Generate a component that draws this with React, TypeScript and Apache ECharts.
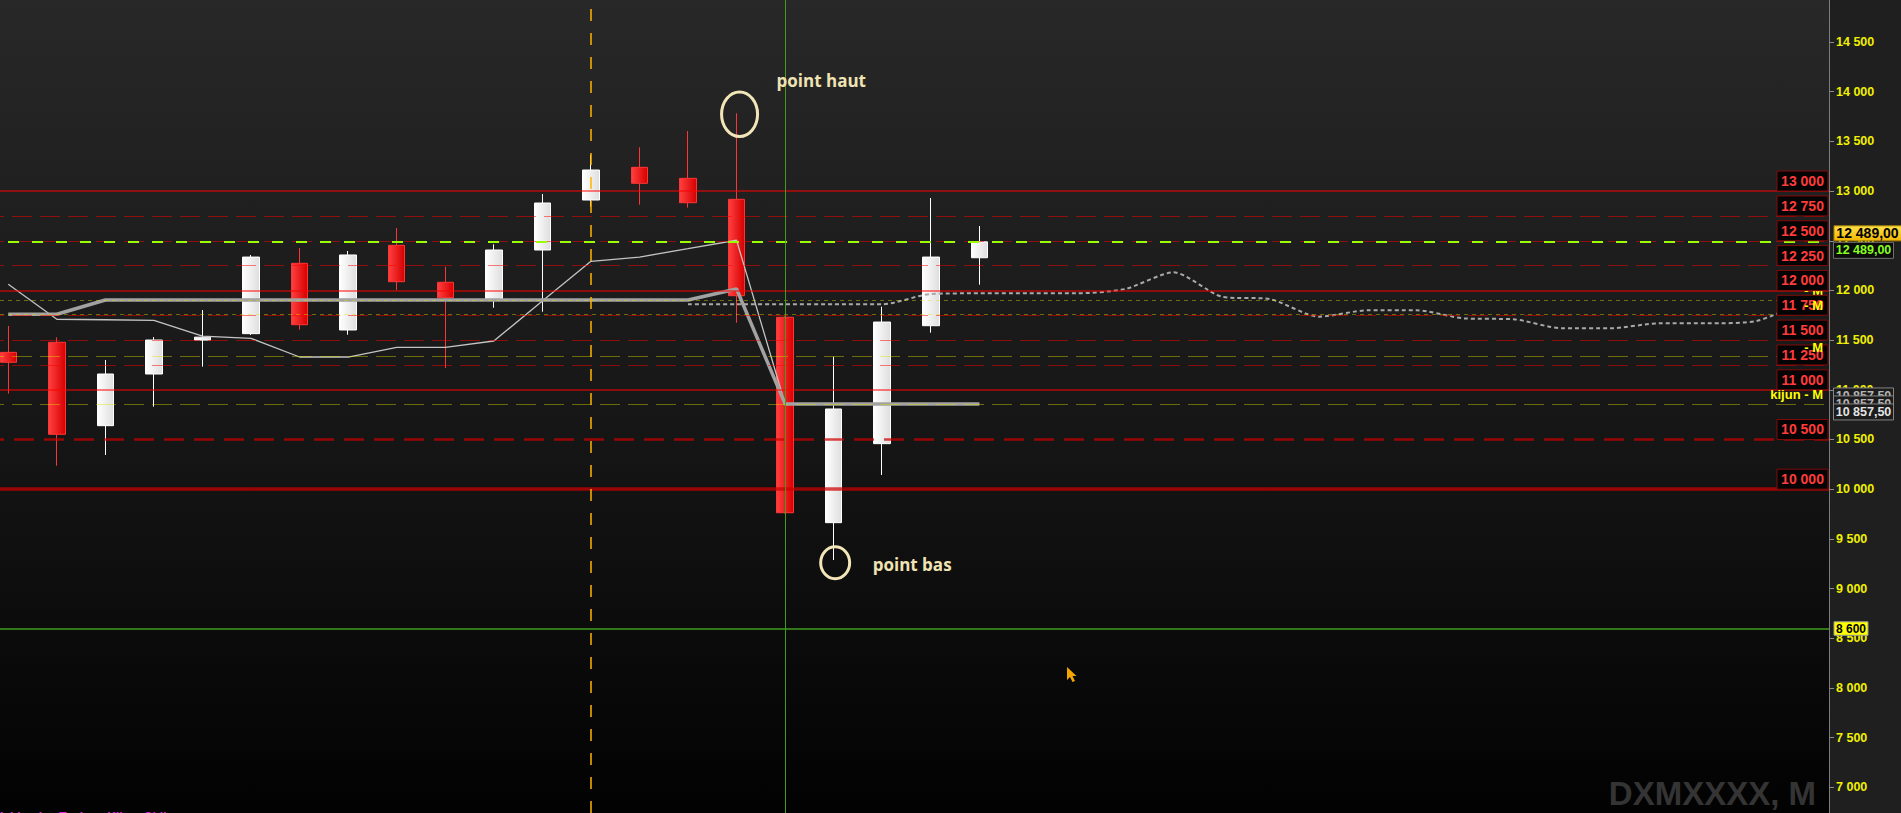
import React, { useEffect, useRef } from 'react';
import * as echarts from 'echarts';

// ---------- data ----------
const categories = [
  '2018-11', '2018-12',
  '2019-01', '2019-02', '2019-03', '2019-04', '2019-05', '2019-06', '2019-07', '2019-08', '2019-09', '2019-10', '2019-11', '2019-12',
  '2020-01', '2020-02', '2020-03', '2020-04', '2020-05', '2020-06', '2020-07', '2020-08', '2020-09', '2020-10', '2020-11', '2020-12',
  '2021-01', '2021-02', '2021-03', '2021-04', '2021-05', '2021-06', '2021-07', '2021-08', '2021-09', '2021-10', '2021-11', '2021-12',
];

const candleOpen = [11377, 11478, 10639, 11159, 11500, 11565, 12273, 11602, 12454, 12082, 11911, 12407, 12910, 13239, 13128, 12917, 11730, 9663, 10458, 11645, 12329];
const candleClose = [11277, 10552, 11159, 11501, 11530, 12336, 11655, 12357, 12088, 11927, 12407, 12880, 13212, 13078, 12883, 11947, 9763, 10807, 11682, 12336, 12489];
const candleLow = [10961, 10236, 10344, 10830, 11233, 11552, 11605, 11555, 12004, 11219, 11826, 11786, 12843, 12863, 12833, 11675, 9755, 9287, 10143, 11575, 12058];
const candleHigh = [11642, 11528, 11300, 11531, 11803, 12357, 12427, 12397, 12628, 12239, 12464, 12970, 13363, 13440, 13604, 13783, 11740, 11333, 11836, 12930, 12648];

const tenkan = [12062, 11710, 11705, 11699, 11541, 11518, 11330, 11330, 11428, 11428, 11491, 11894, 12293, 12336, 12420, 12505, 10857.5, 10857.5, 10857.5, 10857.5, 10857.5];
const kijun = [11760, 11760, 11904, 11904, 11904, 11904, 11904, 11904, 11904, 11904, 11904, 11904, 11904, 11904, 11904, 12014, 10857.5, 10857.5, 10857.5, 10857.5, 10857.5];
const projection: (number | string)[] = [
  '-', '-', '-', '-', '-', '-', '-', '-', '-', '-', '-', '-', '-', '-',
  11860, 11860, 11860, 11860, 11860, 11964, 11971, 11971, 11971, 12014, 12182, 11937,
  11911, 11736, 11800, 11800, 11718, 11710, 11619, 11619, 11669, 11669, 11692, 11894,
];

const yTicks = [7000, 7500, 8000, 8500, 9000, 9500, 10000, 10500, 11000, 11500, 12000, 12500, 13000, 13500, 14000, 14500];
const redLevels = [13000, 12750, 12500, 12250, 12000, 11750, 11500, 11250, 11000, 10500, 10000];
const redSolidLevels = [13000, 12000, 11000];
const redHeavySolidLevels = [10000];
const redHeavyDashedLevels = [10500];
const kijunLevels = [11904, 11760, 11337, 10857.5];
const kijunLabels = ['- M', '- M', '- M', 'kijun - M'];
const kijunShortDash = [11904, 11760];
const currentPrice = 12489;
const supportPrice = 8600;
const kijunPrice = 10857.5;
const orangeMarkerIndex = 12;
const greenMarkerIndex = 16;
const highIndex = 15;
const lowIndex = 17;
const watermark = 'DXMXXXX, M';

// ---------- layout constants ----------
const W = 1901;
const H = 813;
const GRID_LEFT = -16;
const GRID_RIGHT = 72;
const Y_MIN = 6741;
const Y_MAX = 14923;
const FONT = '"Liberation Sans", Arial, sans-serif';

const fmtInt = (v: number) => Math.round(v).toString().replace(/\B(?=(\d{3})+(?!\d))/g, ' ');
const fmtDec = (v: number) => {
  const [i, d] = v.toFixed(2).split('.');
  return fmtInt(Number(i)) + ',' + d;
};

function redLineStyle(v: number) {
  if (redHeavySolidLevels.includes(v)) return { color: 'rgba(205,0,0,0.72)', width: 3.5, type: 'solid' as const };
  if (redHeavyDashedLevels.includes(v)) return { color: 'rgba(205,0,0,0.72)', width: 2.5, type: [20, 10] };
  if (redSolidLevels.includes(v)) return { color: 'rgba(255,0,0,0.5)', width: 2, type: 'solid' as const };
  return { color: 'rgba(255,0,0,0.5)', width: 1, type: [20, 8] };
}

function buildOption() {
  const candles = candleOpen.map((o, i) => [o, candleClose[i], candleLow[i], candleHigh[i]]);
  const whiteGrad = new echarts.graphic.LinearGradient(0, 0, 1, 0, [
    { offset: 0, color: '#ffffff' },
    { offset: 1, color: '#dedede' },
  ]);
  const redGrad = new echarts.graphic.LinearGradient(0, 0, 1, 0, [
    { offset: 0, color: '#ff4040' },
    { offset: 1, color: '#d60000' },
  ]);
  const bgGrad = new echarts.graphic.LinearGradient(0, 0, 0, 1, [
    { offset: 0, color: '#282828' },
    { offset: 0.5, color: '#171717' },
    { offset: 1, color: '#020202' },
  ]);

  return {
    animation: false,
    backgroundColor: '#1f1f1f',
    grid: {
      left: GRID_LEFT,
      right: GRID_RIGHT,
      top: 0,
      bottom: 0,
      outerBoundsMode: 'none',
      containLabel: false,
      show: true,
      borderWidth: 0,
      backgroundColor: bgGrad,
    },
    xAxis: {
      type: 'category',
      data: categories,
      boundaryGap: true,
      axisLine: { show: false },
      axisTick: { show: false },
      axisLabel: { show: false },
      splitLine: { show: false },
    },
    yAxis: {
      type: 'value',
      position: 'right',
      min: Y_MIN,
      max: Y_MAX,
      axisLine: { show: true, lineStyle: { color: '#7c7c7c', width: 1 } },
      axisTick: { show: true, length: 5, lineStyle: { color: '#8c8c8c' }, customValues: yTicks },
      axisLabel: {
        customValues: yTicks,
        color: '#f0f000',
        fontFamily: FONT,
        fontWeight: 'bold',
        fontSize: 12.5,
        margin: 7,
        formatter: (v: number) => fmtInt(v),
      },
      splitLine: { show: false },
    },
    series: [
      {
        type: 'candlestick',
        name: 'DXM',
        data: candles,
        barWidth: 17,
        z: 2,
        emphasis: { disabled: true },
        itemStyle: {
          color: whiteGrad,
          color0: redGrad,
          borderColor: '#ffffff',
          borderColor0: '#ff3535',
          borderWidth: 1,
        },
        markLine: {
          silent: true,
          symbol: ['none', 'none'],
          label: { show: false },
          emphasis: { disabled: true },
          data: [
            ...redLevels.map((v) => ({ yAxis: v, lineStyle: redLineStyle(v) })),
            ...kijunLevels.map((v) => ({
              yAxis: v,
              lineStyle: {
                color: 'rgba(225,225,0,0.42)',
                width: 1,
                type: kijunShortDash.includes(v) ? [4, 4] : [20, 8],
              },
            })),
            { yAxis: currentPrice, lineStyle: { color: '#9cff00', width: 2, type: [11, 13] } },
            { yAxis: supportPrice, lineStyle: { color: '#3f9d20', width: 1.5, type: 'solid' } },
            { xAxis: categories[orangeMarkerIndex], lineStyle: { color: '#ffb400', width: 1.5, type: [12, 12] } },
            { xAxis: categories[greenMarkerIndex], lineStyle: { color: '#3f9d20', width: 1, type: 'solid' } },
          ],
        },
      },
      {
        type: 'line',
        name: 'tenkan',
        data: tenkan,
        symbol: 'none',
        z: 3,
        emphasis: { disabled: true },
        lineStyle: { color: '#c4c4c4', width: 1.3 },
      },
      {
        type: 'line',
        name: 'kijun',
        data: kijun,
        symbol: 'none',
        z: 3,
        emphasis: { disabled: true },
        lineStyle: { color: '#a2a2a2', width: 3.5 },
      },
      {
        type: 'line',
        name: 'projection',
        data: projection,
        symbol: 'none',
        smooth: 0.25,
        z: 3,
        emphasis: { disabled: true },
        lineStyle: { color: '#a9a9a9', width: 2, type: [4, 3] },
      },
    ],
  };
}

function textEl(x: number, y: number, text: string, fill: string, font: string, align: string, z = 60) {
  return {
    type: 'text',
    x,
    y,
    z,
    silent: true,
    style: {
      text,
      fill,
      font,
      textAlign: align,
      textVerticalAlign: 'middle',
      align,
      verticalAlign: 'middle',
    },
  };
}

function buildOverlay(chart: any) {
  const py = (v: number) => chart.convertToPixel({ yAxisIndex: 0 }, v) as number;
  const pt = (i: number, v: number) => chart.convertToPixel({ xAxisIndex: 0, yAxisIndex: 0 }, [i, v]) as number[];
  const axisX = chart.getWidth() - GRID_RIGHT;
  const els: any[] = [];

  kijunLevels.forEach((v, i) => {
    els.push(textEl(axisX - 6, py(v) - 9, kijunLabels[i], '#ffff00', `bold 13px ${FONT}`, 'right', i === 0 ? 49 : 56));
  });

  redLevels.forEach((v) => {
    const y = py(v);
    els.push({
      type: 'rect',
      z: 50,
      silent: true,
      shape: { x: axisX - 52, y: y - 20, width: 51, height: 20 },
      style: { fill: '#040404', stroke: '#800b0b', lineWidth: 1 },
    });
    els.push(textEl(axisX - 26.5, y - 10, fmtInt(v), '#ff3b3b', `bold 14px ${FONT}`, 'center', 51));
  });

  const yc = py(currentPrice);
  els.push({
    type: 'rect',
    z: 60,
    silent: true,
    shape: { x: axisX + 5, y: yc - 16, width: 71, height: 15 },
    style: {
      fill: new echarts.graphic.LinearGradient(0, 0, 0, 1, [
        { offset: 0, color: '#ffe24a' },
        { offset: 1, color: '#f2b500' },
      ]),
      stroke: '#a88000',
      lineWidth: 1,
    },
  });
  els.push(textEl(axisX + 38.5, yc - 8.5, fmtDec(currentPrice), '#000000', `bold 14px ${FONT}`, 'center', 61));
  els.push({
    type: 'rect',
    z: 60,
    silent: true,
    shape: { x: axisX + 4.5, y: yc + 0.5, width: 60, height: 16 },
    style: { fill: '#0c0c0c', stroke: '#6e6e6e', lineWidth: 1 },
  });
  els.push(textEl(axisX + 34.5, yc + 8.5, fmtDec(currentPrice), '#86ff1e', `bold 12.5px ${FONT}`, 'center', 61));

  const yk = py(kijunPrice);
  [-16, -8, 0].forEach((dy, i) => {
    els.push({
      type: 'rect',
      z: 62 + i * 2,
      silent: true,
      shape: { x: axisX + 4.5, y: yk + dy, width: 60, height: 16 },
      style: { fill: '#1c1c1c', stroke: '#858585', lineWidth: 1 },
    });
    els.push(textEl(axisX + 34.5, yk + dy + 8.5, fmtDec(kijunPrice), i === 2 ? '#e4e4e4' : '#b4b4b4', `bold 12.5px ${FONT}`, 'center', 63 + i * 2));
  });

  const ys = py(supportPrice);
  els.push({
    type: 'rect',
    z: 60,
    silent: true,
    shape: { x: axisX + 5, y: ys - 6.5, width: 34, height: 13.5 },
    style: { fill: '#ffff00', stroke: '#9a9a9a', lineWidth: 1 },
  });
  els.push(textEl(axisX + 22, ys + 0.3, fmtInt(supportPrice), '#000000', `bold 12px ${FONT}`, 'center', 61));

  const hp = pt(highIndex, candleHigh[highIndex]);
  const lp = pt(lowIndex, candleLow[lowIndex]);
  els.push({
    type: 'ellipse',
    z: 40,
    silent: true,
    shape: { cx: hp[0] + 3, cy: hp[1] + 1, rx: 18, ry: 22.3 },
    style: { fill: 'none', stroke: '#f2e6b8', lineWidth: 3 },
  });
  els.push({
    type: 'ellipse',
    z: 40,
    silent: true,
    shape: { cx: lp[0] + 1.5, cy: lp[1] + 2.7, rx: 14.5, ry: 16 },
    style: { fill: 'none', stroke: '#f2e6b8', lineWidth: 3 },
  });
  els.push(textEl(hp[0] + 40, hp[1] - 33, 'point haut', '#efe3b4', `bold 17px "Open Sans", "Noto Sans", sans-serif`, 'left', 41));
  els.push(textEl(lp[0] + 39, lp[1] + 4, 'point bas', '#efe3b4', `bold 17px "Open Sans", "Noto Sans", sans-serif`, 'left', 41));

  els.push(textEl(1816, 793, watermark, '#343434', `bold 33px ${FONT}`, 'right', 1));

  els.push({
    type: 'text',
    x: 0,
    y: 811,
    z: 30,
    silent: true,
    style: {
      text: 'Ichimoku  Tenkan  Kijun  Chikou',
      fill: '#e020e0',
      font: `bold 12px ${FONT}`,
      textAlign: 'left',
      textVerticalAlign: 'top',
      align: 'left',
      verticalAlign: 'top',
    },
  });

  els.push({
    type: 'polygon',
    z: 70,
    silent: true,
    shape: {
      points: [
        [1067, 667], [1067, 680], [1070, 677], [1072.5, 682], [1075, 681], [1072.5, 676], [1076.5, 676],
      ],
    },
    style: { fill: '#f3a500' },
  });

  return els;
}

export default function App() {
  const ref = useRef<HTMLDivElement>(null);
  useEffect(() => {
    if (!ref.current) return;
    const chart = echarts.init(ref.current, null, { renderer: 'svg' });
    chart.setOption(buildOption() as any);
    chart.setOption({ graphic: { elements: buildOverlay(chart) } } as any);
    return () => chart.dispose();
  }, []);
  return <div ref={ref} style={{ position: 'absolute', left: 0, top: 0, width: W, height: H }} />;
}
